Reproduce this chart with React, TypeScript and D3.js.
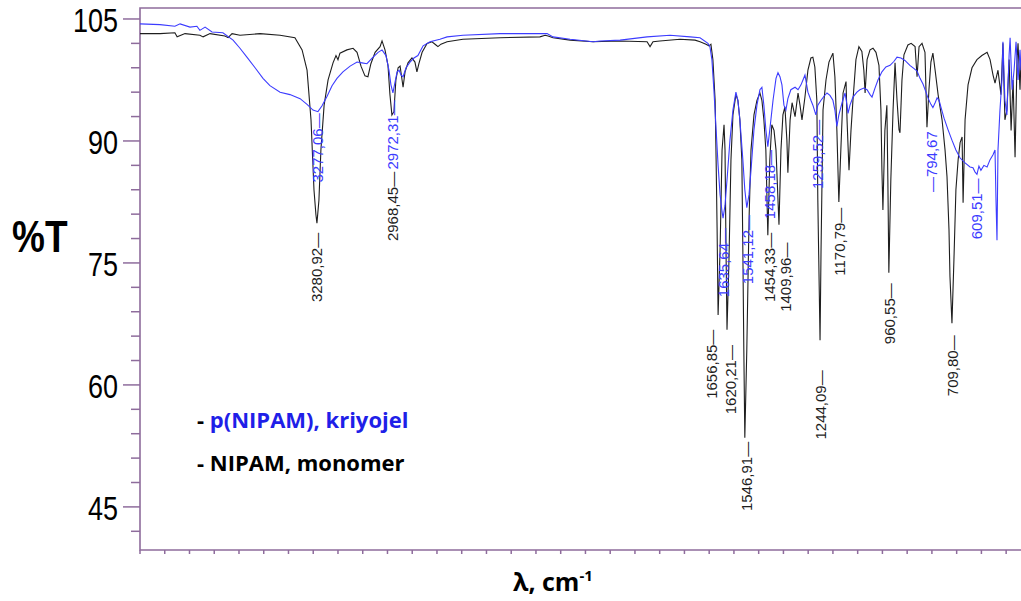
import React, { useRef, useEffect } from "react"
import * as d3 from "d3"

// NIPAM monomer spectrum (black): [wavenumber cm-1, %T]
const monomer: [number, number][] = [
  [4000,103.2],[3919,103.2],[3859,103.3],[3850,102.8],[3818,103.2],[3758,103.0],[3745,102.8],[3717,103.2],[3657,102.9],[3644,102.7],[3628,103.2],[3596,103.0],[3515,103.2],[3434,103.0],[3374,102.7],[3345,101.2],[3325,98.7],[3309,92.6],[3297,84.0],[3289,80.9],[3285,79.9],[3277,82.7],[3269,88.9],[3256,94.4],[3240,97.5],[3220,99.6],[3208,100.5],[3200,100.0],[3192,100.8],[3164,101.2],[3139,101.4],[3123,100.9],[3107,99.2],[3091,98.0],[3079,97.9],[3067,99.5],[3050,100.9],[3030,101.6],[3022,102.3],[3010,101.2],[2998,99.3],[2990,95.7],[2982,93.2],[2974,93.6],[2966,97.5],[2957,99.0],[2949,99.2],[2941,97.5],[2937,96.6],[2929,98.5],[2917,99.6],[2901,100.2],[2889,99.7],[2881,98.5],[2873,99.5],[2860,100.9],[2840,102.0],[2820,102.2],[2804,101.8],[2796,101.6],[2784,101.9],[2759,102.2],[2695,102.5],[2545,102.7],[2384,102.8],[2363,103.0],[2351,102.9],[2331,102.7],[2262,102.4],[2169,102.2],[2060,102.3],[1951,102.2],[1939,101.6],[1927,102.2],[1899,102.3],[1818,102.5],[1757,102.4],[1737,102.2],[1713,101.9],[1701,101.7],[1693,101.9],[1685,100.0],[1676,95.0],[1672,87.7],[1668,79.1],[1664,68.6],[1656,76.6],[1648,88.9],[1640,92.0],[1636,88.9],[1632,76.6],[1628,66.8],[1620,75.4],[1612,87.7],[1604,93.2],[1592,95.7],[1584,95.0],[1576,92.6],[1568,87.7],[1564,76.6],[1560,64.3],[1556,53.5],[1548,64.3],[1539,80.3],[1531,88.9],[1519,93.2],[1507,95.0],[1495,95.9],[1487,95.0],[1479,92.6],[1471,88.9],[1463,78.4],[1455,87.7],[1447,92.0],[1438,91.3],[1430,88.9],[1418,79.7],[1410,88.9],[1402,93.2],[1394,94.2],[1386,90.1],[1382,86.1],[1373,92.6],[1365,94.7],[1353,93.0],[1341,95.9],[1333,94.4],[1325,92.6],[1313,95.4],[1301,98.7],[1289,100.2],[1281,100.3],[1273,99.1],[1265,95.0],[1261,82.7],[1252,65.5],[1248,76.6],[1240,93.8],[1228,97.5],[1216,99.7],[1200,100.8],[1192,97.9],[1184,91.3],[1176,82.5],[1168,88.9],[1159,95.9],[1147,97.3],[1143,92.6],[1135,86.4],[1127,91.3],[1119,95.0],[1107,100.0],[1095,101.6],[1083,101.0],[1075,98.7],[1070,95.9],[1062,100.0],[1050,101.2],[1038,101.4],[1026,100.9],[1014,99.3],[1006,93.8],[1002,86.4],[998,81.5],[990,91.3],[982,94.4],[978,85.2],[974,73.8],[966,85.2],[957,93.8],[949,99.6],[941,95.0],[933,91.4],[929,91.0],[921,97.5],[913,100.6],[897,101.8],[884,102.0],[868,101.6],[860,97.9],[852,101.6],[840,102.0],[828,100.9],[820,91.7],[812,96.3],[804,99.7],[796,100.8],[787,98.7],[775,95.7],[759,92.6],[747,88.9],[739,85.6],[731,79.1],[727,73.3],[719,67.6],[711,75.4],[703,84.0],[694,87.7],[686,89.8],[678,90.5],[674,82.4],[666,92.6],[654,96.9],[638,99.0],[618,100.0],[598,100.5],[577,100.9],[565,100.0],[553,98.1],[545,97.1],[533,98.7],[521,95.7],[513,102.0],[505,92.6],[497,93.8],[488,100.0],[480,91.3],[472,97.5],[464,88.0],[456,100.0],[452,102.0],[444,96.3],[440,100.0]
]

// p(NIPAM) cryogel spectrum (blue): [wavenumber cm-1, %T]
const kriyojel: [number, number][] = [
  [4000,104.4],[3919,104.3],[3859,104.1],[3838,104.4],[3798,104.0],[3770,104.1],[3758,103.6],[3737,104.0],[3709,103.4],[3665,103.3],[3624,102.4],[3596,101.4],[3568,100.3],[3535,99.0],[3503,97.7],[3475,96.8],[3434,96.0],[3394,95.7],[3353,95.2],[3325,94.5],[3301,93.8],[3281,93.6],[3265,94.3],[3244,95.5],[3224,96.8],[3204,97.7],[3180,98.5],[3151,99.2],[3123,99.7],[3103,99.6],[3083,99.5],[3062,100.2],[3038,100.9],[3022,101.2],[3006,100.5],[2994,98.7],[2986,96.9],[2978,95.9],[2969,97.3],[2961,98.5],[2953,98.7],[2945,98.1],[2937,97.9],[2925,99.0],[2909,99.7],[2893,100.2],[2877,100.5],[2856,101.7],[2828,102.2],[2788,102.5],[2759,102.8],[2695,103.0],[2545,103.2],[2384,103.2],[2355,103.2],[2331,102.8],[2262,102.5],[2169,102.2],[2141,102.3],[2060,102.4],[1951,102.8],[1858,103.0],[1777,102.8],[1737,102.7],[1705,102.0],[1697,101.6],[1689,100.0],[1681,96.3],[1672,91.4],[1664,87.0],[1656,83.4],[1648,81.3],[1644,80.5],[1636,82.1],[1628,85.2],[1616,90.1],[1604,93.8],[1592,96.0],[1584,95.0],[1576,92.6],[1564,87.7],[1556,84.0],[1548,81.8],[1539,83.4],[1531,86.4],[1519,91.4],[1507,94.4],[1495,96.3],[1487,96.6],[1479,94.4],[1471,91.4],[1463,89.3],[1455,91.4],[1442,95.0],[1430,97.7],[1422,98.4],[1414,97.9],[1406,96.9],[1398,94.4],[1390,93.8],[1382,95.2],[1370,96.3],[1353,96.6],[1341,96.3],[1329,96.9],[1321,97.5],[1313,98.1],[1301,96.0],[1289,95.0],[1281,94.4],[1269,93.2],[1261,94.4],[1248,95.0],[1236,95.5],[1224,95.9],[1212,95.6],[1200,95.0],[1192,93.8],[1184,91.8],[1176,93.2],[1163,94.7],[1151,95.9],[1143,94.4],[1139,93.4],[1131,94.4],[1119,95.4],[1103,96.0],[1091,96.3],[1075,96.5],[1062,96.3],[1050,95.7],[1042,95.4],[1030,96.5],[1018,97.5],[1002,98.5],[986,99.1],[969,99.3],[953,99.8],[941,100.3],[925,100.2],[909,99.9],[889,99.3],[872,98.9],[860,98.6],[848,97.7],[836,97.0],[824,96.0],[816,95.3],[804,94.5],[796,94.1],[787,94.7],[779,95.3],[771,95.0],[763,94.1],[751,92.8],[735,91.4],[719,90.1],[703,88.9],[686,87.9],[666,87.3],[646,86.8],[634,86.7],[626,86.2],[618,85.9],[610,86.9],[602,86.4],[590,87.0],[577,86.8],[565,87.7],[553,88.3],[545,88.9],[541,82.7],[537,77.8],[533,88.9],[525,93.8],[517,97.5],[513,102.2],[505,95.0],[497,93.2],[488,100.6],[484,102.7],[476,96.3],[468,98.7],[460,102.2],[452,97.5],[444,101.2],[440,98.7]
]

// peak labels: text, where it sits (wavenumber) and the %T where its top end is
const monomerPeaks = [
  { label: "3280,92—", w: 3285, t: 78.7 },
  { label: "2968,45—", w: 2978, t: 86.2 },
  { label: "1656,85—", w: 1689, t: 66.8 },
  { label: "1620,21—", w: 1612, t: 64.9 },
  { label: "1546,91—", w: 1551, t: 53.0 },
  { label: "1454,33—", w: 1458, t: 78.7 },
  { label: "1409,96—", w: 1390, t: 77.5 },
  { label: "1244,09—", w: 1252, t: 61.8 },
  { label: "1170,79—", w: 1175, t: 81.8 },
  { label: "960,55—", w: 973, t: 72.5 },
  { label: "709,80—", w: 715, t: 66.1 },
]

const kriyojelPeaks = [
  { label: "3277,06—", w: 3281, t: 93.4 },
  { label: "2972,31—", w: 2978, t: 95.0 },
  { label: "1635,64—", w: 1644, t: 79.3 },
  { label: "1541,12—", w: 1547, t: 80.9 },
  { label: "1458,18—", w: 1458, t: 88.9 },
  { label: "1259,52—", w: 1264, t: 92.6 },
  { label: "—794,67", w: 800, t: 91.2 },
  { label: "609,51—", w: 618, t: 85.4 },
]

const yMajorTicks = [105, 90, 75, 60, 45]
const yMinorTicks = d3.range(42, 106, 3)
const xTicks = d3.range(4000, 450, -100)

const App = () => {
  const element = useRef(null)

  useEffect(() => {
    const width = 1021, height = 601
    const frame = "#8e6c9c"
    const black = "#1e1e1e"
    const blue = "#3c3cff"
    const numFont = "'Liberation Sans', Arial, sans-serif"
    const boldFont = "'Open Sans', 'Noto Sans', sans-serif"

    const svg = d3.select(element.current)
      .append("svg")
        .attr("width", width)
        .attr("height", height)
        .style("position", "absolute")
        .style("left", 0)
        .style("top", 0)
        .style("background", "#fff")

    const x = d3.scaleLinear().domain([4000, 440]).range([140, 1021])
    const y = d3.scaleLinear().domain([39.7, 106.35]).range([550, 8])

    // frame
    svg.append("path")
      .attr("d", `M${width},${y(106.35)}H140V${y(39.7)}H${width}`)
      .attr("fill", "none")
      .attr("stroke", frame)
      .attr("stroke-width", 1.6)

    svg.append("g")
      .selectAll("line")
      .data(yMinorTicks)
      .join("line")
        .attr("x1", d => yMajorTicks.includes(d) ? 123 : 131)
        .attr("x2", 140)
        .attr("y1", d => y(d))
        .attr("y2", d => y(d))
        .attr("stroke", frame)
        .attr("stroke-width", 1.5)

    svg.append("g")
      .selectAll("line")
      .data(xTicks)
      .join("line")
        .attr("x1", d => x(d))
        .attr("x2", d => x(d))
        .attr("y1", 550)
        .attr("y2", 554)
        .attr("stroke", frame)
        .attr("stroke-width", 1.5)

    svg.append("g")
      .selectAll("text")
      .data(yMajorTicks)
      .join("text")
        .attr("transform", d => `translate(118,${y(d) + 13}) scale(1,1.22)`)
        .attr("text-anchor", "end")
        .attr("font-family", numFont)
        .attr("font-size", 27)
        .attr("fill", "#000")
        .text(d => d)

    svg.append("text")
      .attr("transform", "translate(12,252) scale(1,1.2)")
      .attr("font-family", "'Liberation Sans', Arial, sans-serif")
      .attr("font-weight", "bold")
      .attr("font-size", 37)
      .attr("fill", "#000")
      .text("%T")

    const line = d3.line().x(d => x(d[0])).y(d => y(d[1]))

    svg.append("path")
      .datum(monomer)
      .attr("d", line)
      .attr("fill", "none")
      .attr("stroke", black)
      .attr("stroke-width", 1.1)

    svg.append("path")
      .datum(kriyojel)
      .attr("d", line)
      .attr("fill", "none")
      .attr("stroke", blue)
      .attr("stroke-width", 1.1)

    const peakLabels = (peaks, color) => svg.append("g")
      .selectAll("text")
      .data(peaks)
      .join("text")
        .attr("transform", d => `translate(${x(d.w)},${y(d.t)}) rotate(-90)`)
        .attr("text-anchor", "end")
        .attr("dominant-baseline", "central")
        .attr("font-family", numFont)
        .attr("font-size", 15)
        .attr("fill", color)
        .text(d => d.label)

    peakLabels(monomerPeaks, black)
    peakLabels(kriyojelPeaks, blue)

    // legend
    const leg1 = svg.append("text")
      .attr("x", 197)
      .attr("y", 428)
      .attr("font-family", boldFont)
      .attr("font-weight", "bold")
      .attr("font-size", 22)
    leg1.append("tspan").attr("fill", "#000").text("- ")
    leg1.append("tspan").attr("fill", "#1f1fe8").text("p(NIPAM), kriyojel")

    svg.append("text")
      .attr("x", 197)
      .attr("y", 471)
      .attr("font-family", boldFont)
      .attr("font-weight", "bold")
      .attr("font-size", 22)
      .attr("fill", "#000")
      .text("- NIPAM, monomer")

    const xLabel = svg.append("text")
      .attr("x", 513)
      .attr("y", 591)
      .attr("font-family", boldFont)
      .attr("font-weight", "bold")
      .attr("font-size", 25)
      .attr("fill", "#000")
    xLabel.append("tspan").text("λ, cm")
    xLabel.append("tspan").attr("font-size", 15).attr("dy", -10).text("-1")

    return () => {
      svg.remove()
    }
  }, [])

  return (
    <div ref={element}></div>
  )
}

export default App
